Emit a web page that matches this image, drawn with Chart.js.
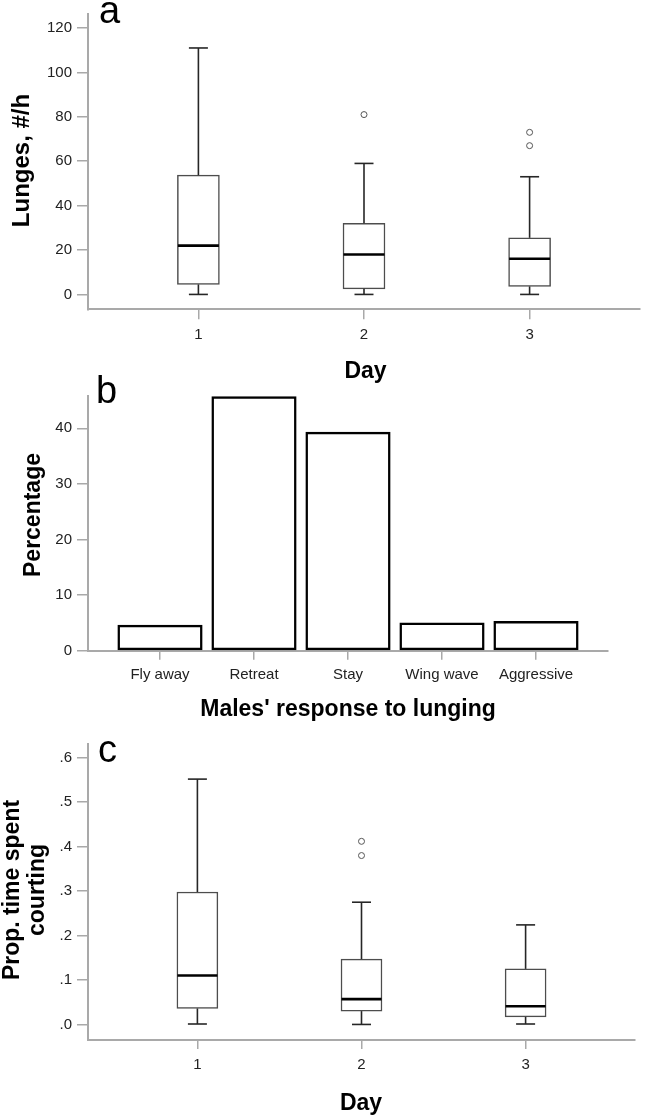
<!DOCTYPE html>
<html><head><meta charset="utf-8">
<script src="https://cdn.jsdelivr.net/npm/chart.js@4.4.0/dist/chart.umd.min.js"></script>
<style>
html,body{margin:0;padding:0;background:#fff;width:645px;height:1115px;overflow:hidden;position:relative;}
canvas{position:absolute;left:0;}
</style></head><body>
<canvas id="ca" width="645" height="390" style="top:0px"></canvas>
<canvas id="cb" width="645" height="375" style="top:360px"></canvas>
<canvas id="cc" width="645" height="385" style="top:730px"></canvas>
<script>
// ---- data ----
const days = ['1','2','3'];
const lungesMin = [0, 0, 0];
const lungesQ1 = [4.5, 2.5, 3.6];
const lungesMedian = [22, 18, 16.1];
const lungesQ3 = [53.7, 32, 25.5];
const lungesMax = [111, 59, 53];
const lungesOutliers = [[], [81], [73, 67]];
const lungesTicks = [0, 20, 40, 60, 80, 100, 120];

const responses = ['Fly away', 'Retreat', 'Stay', 'Wing wave', 'Aggressive'];
const responsePct = [4.6, 45.7, 39.3, 5.0, 5.3];
const pctTicks = [0, 10, 20, 30, 40];

const courtMin = [0.001, 0, 0.001];
const courtQ1 = [0.036, 0.030, 0.017];
const courtMedian = [0.110, 0.057, 0.041];
const courtQ3 = [0.298, 0.147, 0.125];
const courtMax = [0.552, 0.275, 0.224];
const courtOutliers = [[], [0.412, 0.380], []];
const courtTicks = [0, 0.1, 0.2, 0.3, 0.4, 0.5, 0.6];

// ---- setup ----
const FONT = "'Liberation Sans', Arial, Helvetica, sans-serif";
Chart.defaults.font.family = FONT;
Chart.defaults.color = '#222';
Chart.defaults.animation = false;

const AXIS_GRAY = '#a9a9a9';

const boxPlugin = {
  id: 'boxExtras',
  afterDatasetsDraw(chart, args, opts) {
    if (!opts || !opts.stats) return;
    const ctx = chart.ctx, x = chart.scales.x, y = chart.scales.y, s = opts.stats;
    const meta = chart.getDatasetMeta(0);
    ctx.save();
    const line = (x1, y1, x2, y2) => { ctx.beginPath(); ctx.moveTo(x1, y1); ctx.lineTo(x2, y2); ctx.stroke(); };
    s.median.forEach((m, i) => {
      const cx = x.getPixelForValue(i + 1);
      const half = meta.data[i].width / 2;
      const cap = opts.capWidth / 2;
      const yMax = y.getPixelForValue(s.max[i]), yMin = y.getPixelForValue(s.min[i]);
      const yQ3 = y.getPixelForValue(s.q3[i]), yQ1 = y.getPixelForValue(s.q1[i]);
      ctx.strokeStyle = '#262626'; ctx.lineWidth = 1.6;
      line(cx, yQ3, cx, yMax); line(cx, yQ1, cx, yMin);
      line(cx - cap, yMax, cx + cap, yMax); line(cx - cap, yMin, cx + cap, yMin);
      ctx.strokeStyle = '#000'; ctx.lineWidth = 2.6;
      const ym = y.getPixelForValue(m);
      line(cx - half + 0.5, ym, cx + half - 0.5, ym);
    });
    ctx.restore();
  }
};

const textPlugin = {
  id: 'texts',
  afterDraw(chart, args, opts) {
    if (!opts || !opts.items) return;
    const ctx = chart.ctx;
    opts.items.forEach(t => {
      ctx.save();
      ctx.font = t.font;
      ctx.fillStyle = t.color || '#000';
      ctx.textAlign = t.align || 'center';
      ctx.textBaseline = 'alphabetic';
      ctx.translate(t.x, t.y);
      if (t.rotate) ctx.rotate(-Math.PI / 2);
      ctx.fillText(t.text, 0, 0);
      ctx.restore();
    });
  }
};
Chart.register(boxPlugin, textPlugin);

function yScale(min, max, ticks, fmt) {
  return {
    type: 'linear', min: min, max: max,
    afterBuildTicks: s => { s.ticks = ticks.map(v => ({ value: v })); },
    afterFit: s => { s.width = 88; },
    grid: { display: true, drawOnChartArea: false, drawTicks: true, tickLength: 11, color: AXIS_GRAY, lineWidth: 1.5 },
    border: { display: true, color: AXIS_GRAY, width: 2 },
    ticks: { padding: 5, font: { size: 15 }, color: '#222', callback: fmt }
  };
}
function xScale(min, max, labels, height, tickLen, pad) {
  return {
    type: 'linear', min: min, max: max, offset: false,
    afterBuildTicks: s => { s.ticks = labels.map((l, i) => ({ value: i + 1 })); },
    afterFit: s => { s.height = height; },
    grid: { display: true, offset: false, drawOnChartArea: false, drawTicks: true, tickLength: tickLen, color: AXIS_GRAY, lineWidth: 1.5 },
    border: { display: true, color: AXIS_GRAY, width: 2 },
    ticks: { autoSkip: false, maxRotation: 0, minRotation: 0, padding: pad, font: { size: 15 }, color: '#222',
      callback: v => labels[Math.round(v) - 1] }
  };
}

function boxChart(id, st, outliers, yMin, yMax, ticks, fmt, cfg) {
  const outPts = [];
  outliers.forEach((arr, i) => arr.forEach(v => outPts.push({ x: i + 1, y: v })));
  return new Chart(document.getElementById(id), {
    type: 'bar',
    data: {
      datasets: [
        {
          type: 'bar',
          data: days.map((d, i) => ({ x: i + 1, y: [st.q1[i], st.q3[i]] })),
          backgroundColor: '#ffffff', borderColor: '#4d4d4d', borderWidth: 1.5,
          borderSkipped: false, barThickness: cfg.boxWidth
        },
        {
          type: 'scatter', data: outPts,
          pointRadius: 3, pointBorderWidth: 1, pointBorderColor: '#555', pointBackgroundColor: '#fff'
        }
      ]
    },
    options: {
      responsive: false, devicePixelRatio: 1, animation: false, events: [],
      layout: { padding: { left: 0, top: cfg.top, right: cfg.right, bottom: 0 } },
      scales: {
        x: xScale(1 / 3, 11 / 3, days, cfg.xHeight, cfg.tickLen, cfg.pad),
        y: yScale(yMin, yMax, ticks, fmt)
      },
      plugins: {
        legend: { display: false }, tooltip: { enabled: false },
        boxExtras: { stats: st, capWidth: 19 },
        texts: { items: cfg.texts }
      }
    }
  });
}

// ---- panel a ----
boxChart('ca',
  { min: lungesMin, q1: lungesQ1, median: lungesMedian, q3: lungesQ3, max: lungesMax },
  lungesOutliers, -6.7, 126.3, lungesTicks, v => String(v),
  { top: 12, right: 0, xHeight: 390 - 309.3, tickLen: 10, pad: 7, boxWidth: 42,
    texts: [
      { text: 'a', x: 99, y: 23.3, font: `38px ${FONT}`, align: 'left' },
      { text: 'Lunges, #/h', x: 28.9, y: 160.5, font: `bold 24px ${FONT}`, rotate: true },
      { text: 'Day', x: 365.5, y: 378, font: `bold 23px ${FONT}` }
    ] });

// ---- panel b ----
new Chart(document.getElementById('cb'), {
  type: 'bar',
  data: {
    datasets: [{
      data: responses.map((r, i) => ({ x: i + 1, y: responsePct[i] })),
      backgroundColor: '#ffffff', borderColor: '#000000', borderWidth: 2.5,
      borderSkipped: false, barThickness: 84.5
    }]
  },
  options: {
    responsive: false, devicePixelRatio: 1, animation: false, events: [],
    layout: { padding: { left: 0, top: 36, right: 37, bottom: 0 } },
    scales: {
      x: xScale(0.234, 5.766, responses, 375 - 290.7, 9, 6),
      y: yScale(0, 45.8, pctTicks, v => String(v))
    },
    plugins: {
      legend: { display: false }, tooltip: { enabled: false },
      texts: { items: [
        { text: 'b', x: 96, y: 43.3, font: `38px ${FONT}`, align: 'left' },
        { text: 'Percentage', x: 40, y: 155, font: `bold 23px ${FONT}`, rotate: true },
        { text: "Males' response to lunging", x: 348, y: 356, font: `bold 23px ${FONT}` }
      ] }
    }
  }
});

// ---- panel c ----
boxChart('cc',
  { min: courtMin, q1: courtQ1, median: courtMedian, q3: courtQ3, max: courtMax },
  courtOutliers, -0.035, 0.631, courtTicks, v => Number(v).toFixed(1).replace(/^0/, ''),
  { top: 12.7, right: 10, xHeight: 385 - 310, tickLen: 9, pad: 7, boxWidth: 41,
    texts: [
      { text: 'c', x: 98, y: 31.7, font: `38px ${FONT}`, align: 'left' },
      { text: 'Prop. time spent', x: 19, y: 160, font: `bold 23px ${FONT}`, rotate: true },
      { text: 'courting', x: 43.5, y: 160, font: `bold 23px ${FONT}`, rotate: true },
      { text: 'Day', x: 361, y: 379.5, font: `bold 23px ${FONT}` }
    ] });
</script>
</body></html>
